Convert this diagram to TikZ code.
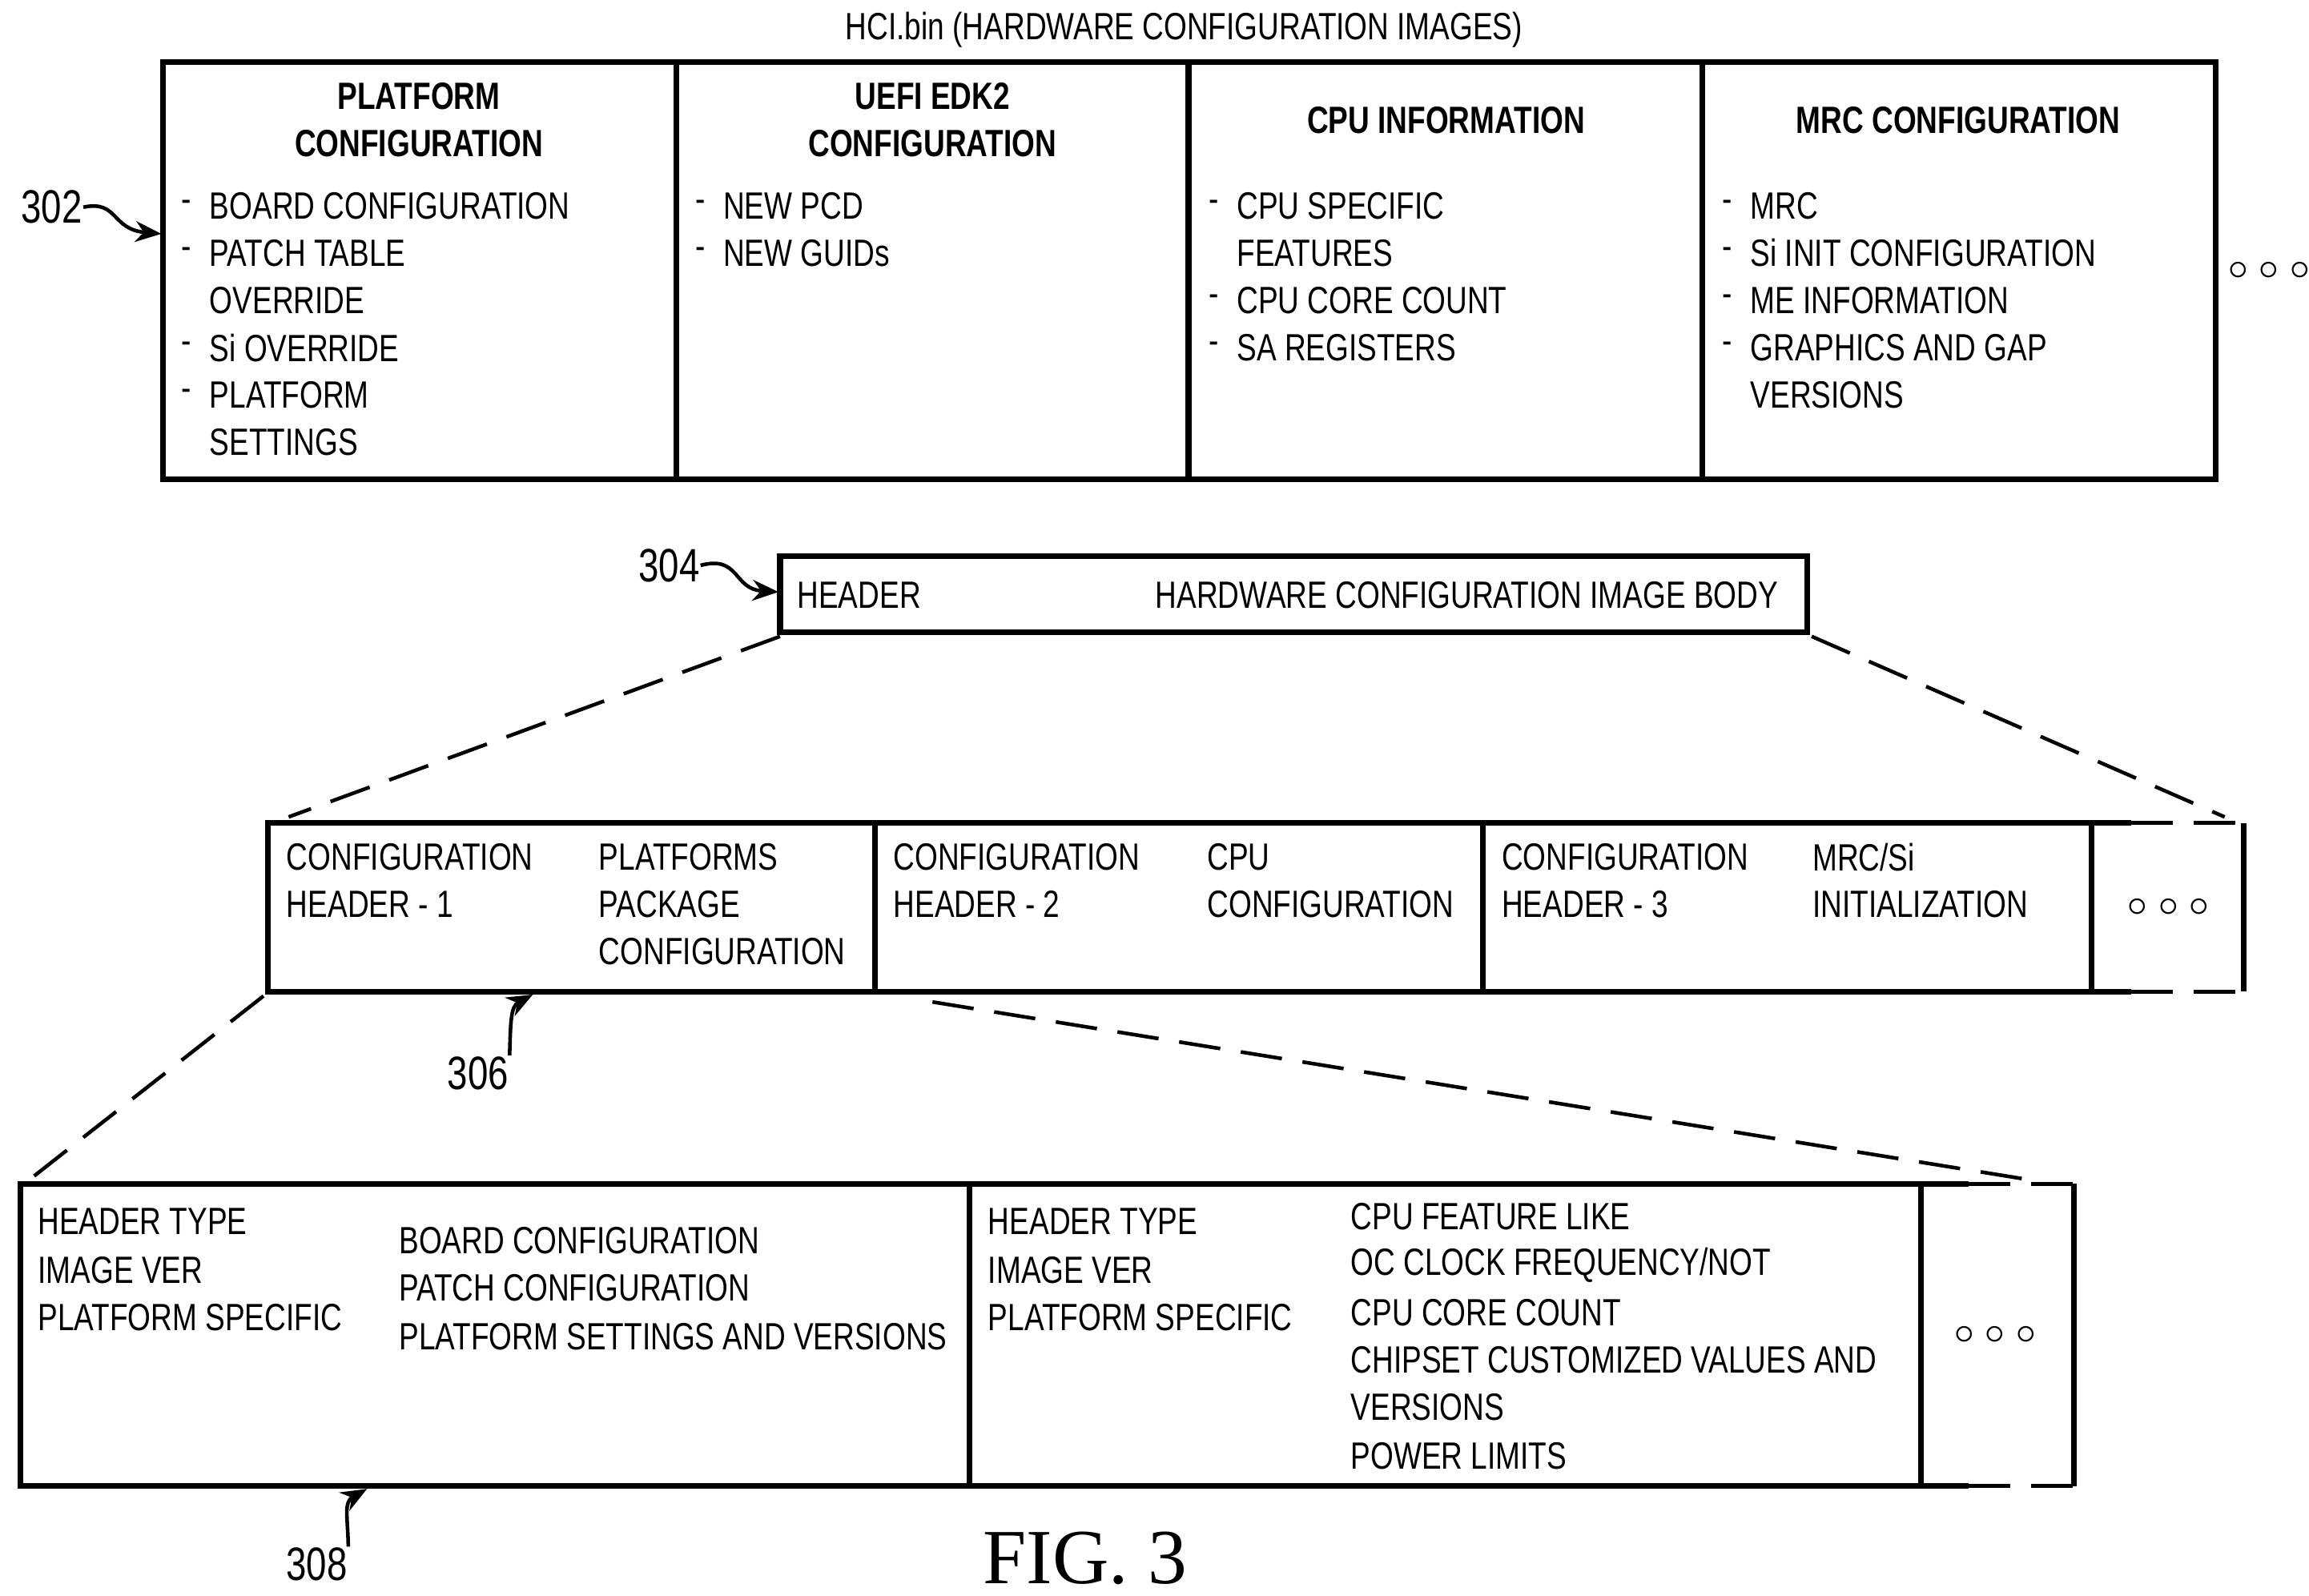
\documentclass[tikz,border=0pt]{standalone}
\usepackage{fontspec}
\setmainfont{Liberation Sans}[FakeStretch=0.78]
\newfontfamily\figfont{Liberation Serif}
\usetikzlibrary{arrows.meta}
\begin{document}
\begin{tikzpicture}[x=0.01cm,y=-0.01cm,
  box/.style={line width=1.1pt},
  dsh/.style={dash pattern=on 8pt off 4pt,line width=0.7pt},
  t/.style={anchor=west,inner sep=0,font=\fontsize{7.3}{10}\selectfont},
  b/.style={align=center,inner sep=0,font=\bfseries\fontsize{7.3}{9.1}\selectfont},
  lab/.style={inner sep=0,font=\fontsize{9}{10}\selectfont},
  sq/.style={-{Stealth[length=5pt,width=4pt]},line width=0.7pt}]
\useasboundingbox (0,0) rectangle (1560,1078);
\node[t,anchor=center] (title) at (800,20) {HCI.bin (HARDWARE CONFIGURATION IMAGES)};
% top box
\draw[box] (110,42) rectangle (1497,324);
\foreach \x in {457,803,1150}{\draw[box] (\x,42)--(\x,324);}
\node[b] (h1) at (283,81) {PLATFORM\\CONFIGURATION};
\node[b] (h2) at (630,81) {UEFI EDK2\\CONFIGURATION};
\node[b] (h3) at (977,81) {CPU INFORMATION};
\node[b] (h4) at (1323,81) {MRC CONFIGURATION};
\foreach \y/\s in {139/BOARD CONFIGURATION,171/PATCH TABLE,235/Si OVERRIDE,267/PLATFORM}{\node[t] at (122,\y) {-}; \node[t] at (141,\y) {\s};}
\node[t] at (141,203) {OVERRIDE}; \node[t] at (141,299) {SETTINGS};
\foreach \y/\s in {139/NEW PCD,171/NEW GUIDs}{\node[t] at (469,\y) {-}; \node[t] at (488,\y) {\s};}
\foreach \y/\s in {139/CPU SPECIFIC,203/CPU CORE COUNT,235/SA REGISTERS}{\node[t] at (816,\y) {-}; \node[t] at (835,\y) {\s};}
\node[t] at (835,171) {FEATURES};
\foreach \y/\s in {139/MRC,171/Si INIT CONFIGURATION,203/ME INFORMATION,235/GRAPHICS AND GAP}{\node[t] at (1163,\y) {-}; \node[t] at (1182,\y) {\s};}
\node[t] at (1182,267) {VERSIONS};
\node[t,anchor=center] (d1) at (1533,183) {$\circ\circ\circ$};
\node[lab] (l302) at (35,140) {302};
\coordinate (a302) at (109,158);
\draw[sq] (l302.east) .. controls (80,135) and (75,155) .. (a302);
% 304
\draw[box] (527,376) rectangle (1221,427);
\node[t] (hd) at (538,402) {HEADER};
\node[t] (hb) at (780,402) {HARDWARE CONFIGURATION IMAGE BODY};
\node[lab] (l304) at (452,382) {304};
\coordinate (a304) at (526,400);
\draw[sq] (l304.east) .. controls (500,375) and (495,398) .. (a304);
\draw[dsh] (527,430)--(195,552);
\draw[dsh] (1224,430)--(1503,552);
% middle box
\draw[box] (1440,556)--(181,556)--(181,670)--(1440,670);
\draw[dsh] (1440,556)--(1516,556); \draw[dsh] (1440,670)--(1516,670);
\draw[box] (1516,556)--(1516,670);
\foreach \x in {591,1002,1413}{\draw[box] (\x,556)--(\x,670);}
\node[t] at (193,579) {CONFIGURATION}; \node[t] at (193,611) {HEADER - 1};
\node[t] at (404,579) {PLATFORMS}; \node[t] at (404,611) {PACKAGE}; \node[t] at (404,643) {CONFIGURATION};
\node[t] at (603,579) {CONFIGURATION}; \node[t] at (603,611) {HEADER - 2};
\node[t] at (815,579) {CPU}; \node[t] at (815,611) {CONFIGURATION};
\node[t] at (1014,579) {CONFIGURATION}; \node[t] at (1014,611) {HEADER - 3};
\node[t] at (1224,579) {MRC/Si}; \node[t] at (1224,611) {INITIALIZATION};
\node[t,anchor=center] (d2) at (1465,613) {$\circ\circ\circ$};
\node[lab] (l306) at (323,725) {306};
\coordinate (a306) at (360,672);
\draw[sq] (l306.north east) .. controls (345,690) and (345,680) .. (a306);
\draw[dsh] (178,673)--(20,797);
\draw[dsh] (630,677)--(1370,797);
% bottom box
\draw[box] (1330,800)--(14,800)--(14,1004)--(1330,1004);
\draw[dsh] (1330,800)--(1401,800); \draw[dsh] (1330,1004)--(1401,1004);
\draw[box] (1401,800)--(1401,1004);
\foreach \x in {655,1298}{\draw[box] (\x,800)--(\x,1004);}
\foreach \y/\s in {825/HEADER TYPE,858/IMAGE VER,890/PLATFORM SPECIFIC}{\node[t] at (25,\y) {\s}; \node[t] at (667,\y) {\s};}
\foreach \y/\s in {838/BOARD CONFIGURATION,870/PATCH CONFIGURATION,903/PLATFORM SETTINGS AND VERSIONS}{\node[t] at (269,\y) {\s};}
\foreach \y/\s in {822/CPU FEATURE LIKE,855/{OC CLOCK FREQUENCY/NOT},887/CPU CORE COUNT,919/CHIPSET CUSTOMIZED VALUES AND,951/VERSIONS,984/POWER LIMITS}{\node[t] at (912,\y) {\s};}
\node[t,anchor=center] (d3) at (1348,902) {$\circ\circ\circ$};
\node[lab] (l308) at (214,1057) {308};
\coordinate (a308) at (248,1006);
\draw[sq] (l308.north east) .. controls (235,1025) and (232,1015) .. (a308);
\node[inner sep=0,font=\figfont\fontsize{15}{16}\selectfont] (fig) at (733,1053) {FIG. 3};
\end{tikzpicture}
\end{document}
